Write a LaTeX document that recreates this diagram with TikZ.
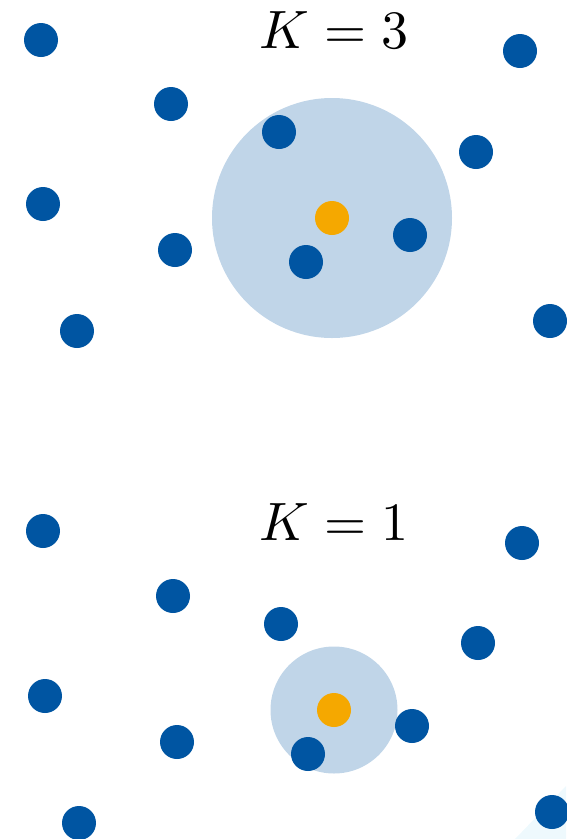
\documentclass[tikz,border=0pt]{standalone}
\usepackage{tikz}
\definecolor{dotblue}{HTML}{0055A2}
\definecolor{dotorange}{HTML}{F5A800}
\definecolor{ballblue}{HTML}{C0D5E8}
\definecolor{faintcyan}{HTML}{EEF9FD}
\tikzset{
  pt/.style={circle,fill=dotblue,inner sep=0pt,minimum size=34pt},
  qpt/.style={circle,fill=dotorange,inner sep=0pt,minimum size=34pt},
  lbl/.style={inner sep=0pt,scale=5.4}
}
\begin{document}
\begin{tikzpicture}[x=1pt,y=-1pt]
\useasboundingbox (0,0) rectangle (566,839);
\fill[faintcyan] (515,839) -- (566,786) -- (566,839) -- cycle;
% top panel
\fill[ballblue] (332,218) circle (120);
\node[lbl] (k3) at (334,30) {$K=3$};
\node[pt] (a1) at (41,40) {};
\node[pt] (a2) at (171,104) {};
\node[pt] (a3) at (520,51) {};
\node[pt] (a4) at (279,132) {};
\node[pt] (a5) at (476,152) {};
\node[pt] (a6) at (43,204) {};
\node[pt] (a7) at (175,250) {};
\node[pt] (a8) at (410,235) {};
\node[pt] (a9) at (306,262) {};
\node[pt] (a10) at (77,331) {};
\node[pt] (a11) at (550,321) {};
\node[qpt] (aq) at (332,218) {};
% bottom panel
\fill[ballblue] (334,710) circle (63.5);
\node[lbl] (k1) at (334,522) {$K=1$};
\node[pt] (b1) at (43,531) {};
\node[pt] (b2) at (173,596) {};
\node[pt] (b3) at (522,543) {};
\node[pt] (b4) at (281,624) {};
\node[pt] (b5) at (478,643) {};
\node[pt] (b6) at (45,696) {};
\node[pt] (b7) at (177,742) {};
\node[pt] (b8) at (412,726) {};
\node[pt] (b9) at (308,754) {};
\node[pt] (b10) at (79,823) {};
\node[pt] (b11) at (552,812) {};
\node[qpt] (bq) at (334,710) {};
\end{tikzpicture}
\end{document}
